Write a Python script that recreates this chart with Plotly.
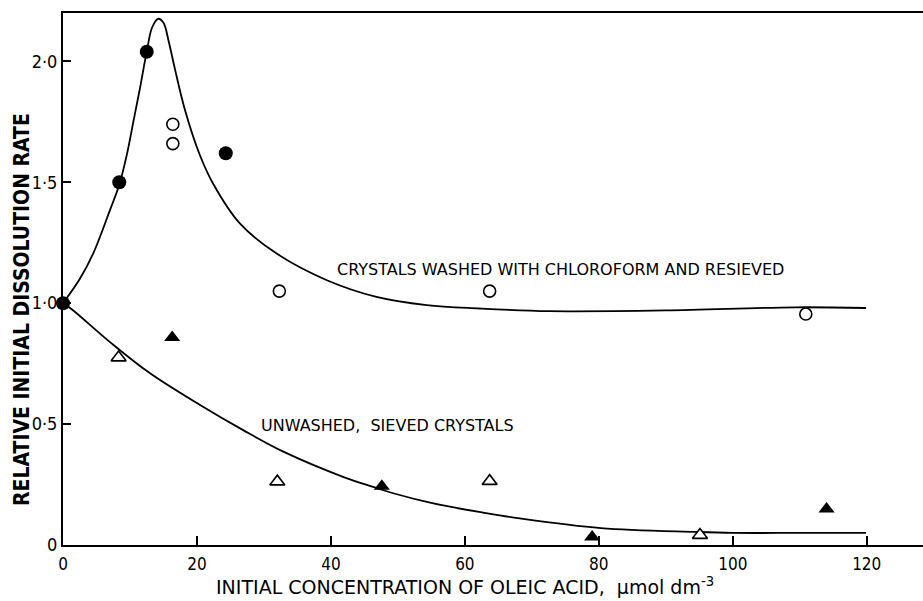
import plotly.graph_objects as go

# ---- data ----
washed_filled_x = [0, 8.4, 12.5, 24.3]
washed_filled_y = [1.0, 1.5, 2.04, 1.62]
washed_open_x = [16.4, 16.4, 32.3, 63.7, 110.9]
washed_open_y = [1.74, 1.66, 1.05, 1.05, 0.955]

unwashed_open_x = [8.3, 32.0, 63.7, 95.1]
unwashed_open_y = [0.775, 0.262, 0.264, 0.041]
unwashed_filled_x = [16.3, 47.6, 79.0, 114.0]
unwashed_filled_y = [0.858, 0.243, 0.033, 0.149]

fit_washed_x = [0, 2.5, 4.5, 7.0, 8.4, 9.5, 10.5, 11.5, 12.5, 13.3, 14.2, 15.0, 15.8, 16.7,
                18.2, 20.4, 22.4, 26.4, 31.9, 39.4, 46.8, 54.3, 62.2, 72.6, 90, 109.3, 119.9]
fit_washed_y = [1.0, 1.1, 1.205, 1.384, 1.49, 1.61, 1.75, 1.89, 2.04, 2.14, 2.176, 2.16, 2.08, 1.97,
                1.80, 1.615, 1.495, 1.33, 1.205, 1.095, 1.026, 0.992, 0.978, 0.967, 0.97, 0.983, 0.98]

fit_unwashed_x = [0, 1.3, 7.2, 13, 20.4, 26.9, 32.9, 41.8, 46.3, 49.3, 55.3, 62.7, 68.2,
                  80.3, 94.5, 100, 110, 119.9]
fit_unwashed_y = [1.0, 0.975, 0.835, 0.71, 0.58, 0.475, 0.386, 0.282, 0.24, 0.214, 0.172, 0.134, 0.11,
                  0.07, 0.054, 0.05, 0.05, 0.05]

y_tickvals = [0, 0.5, 1.0, 1.5, 2.0]
y_ticktext = ["0", "0·5", "1·0", "1·5", "2·0"]
x_tickvals = [0, 20, 40, 60, 80, 100, 120]
x_ticktext = ["0", "20", "40", "60", "80", "100", "120"]

FONT = "DejaVu Sans Condensed, Liberation Sans Narrow, Arial Narrow, sans-serif"
FONT_WIDE = "DejaVu Sans, Verdana, sans-serif"

fig = go.Figure()
fig.add_trace(go.Scatter(x=fit_washed_x, y=fit_washed_y, mode="lines",
                         line=dict(color="black", width=1.8, shape="spline", smoothing=1.0),
                         showlegend=False, hoverinfo="skip"))
fig.add_trace(go.Scatter(x=fit_unwashed_x, y=fit_unwashed_y, mode="lines",
                         line=dict(color="black", width=1.8, shape="spline", smoothing=1.0),
                         showlegend=False, hoverinfo="skip"))
fig.add_trace(go.Scatter(x=washed_open_x, y=washed_open_y, mode="markers",
                         marker=dict(symbol="circle", size=12, color="white",
                                     line=dict(color="black", width=1.6)),
                         cliponaxis=False, showlegend=False))
fig.add_trace(go.Scatter(x=washed_filled_x, y=washed_filled_y, mode="markers",
                         marker=dict(symbol="circle", size=14, color="black"),
                         cliponaxis=False, showlegend=False))
fig.add_trace(go.Scatter(x=unwashed_open_x, y=unwashed_open_y, mode="markers",
                         marker=dict(symbol="triangle-up", size=13, color="white",
                                     line=dict(color="black", width=1.6)),
                         cliponaxis=False, showlegend=False))
fig.add_trace(go.Scatter(x=unwashed_filled_x, y=unwashed_filled_y, mode="markers",
                         marker=dict(symbol="triangle-up", size=14, color="black"),
                         cliponaxis=False, showlegend=False))

fig.add_annotation(x=74.3, y=1.14, text="CRYSTALS WASHED WITH CHLOROFORM AND RESIEVED",
                   showarrow=False, font=dict(family=FONT_WIDE, size=16, color="black"))
fig.add_annotation(x=48.4, y=0.496, text="UNWASHED,  SIEVED CRYSTALS",
                   showarrow=False, font=dict(family=FONT_WIDE, size=16, color="black"))

# axis titles
fig.add_annotation(xref="paper", yref="paper", x=0.4675, y=-0.0771,
                   xanchor="center", yanchor="middle", showarrow=False,
                   text="INITIAL CONCENTRATION OF OLEIC ACID,  μmol dm<sup>-3</sup>",
                   font=dict(family=FONT_WIDE, size=19, color="black"))
fig.add_annotation(xref="paper", yref="paper", x=-0.0477, y=0.4436,
                   xanchor="center", yanchor="middle", showarrow=False, textangle=-90,
                   text="<b>RELATIVE INITIAL DISSOLUTION RATE</b>",
                   font=dict(family=FONT, size=21, color="black"))

fig.update_layout(
    width=923, height=601,
    margin=dict(l=63, r=0, t=13, b=56),
    paper_bgcolor="white", plot_bgcolor="white",
    font=dict(family=FONT, color="black"),
    xaxis=dict(range=[0, 128.4], tickvals=x_tickvals, ticktext=x_ticktext,
               ticks="inside", ticklen=9, tickwidth=1.5, tickcolor="black",
               showline=True, linecolor="black", linewidth=2, mirror=True,
               showgrid=False, zeroline=False, tickfont=dict(size=17, family=FONT),
               ticklabelstandoff=3),
    yaxis=dict(range=[0, 2.2], tickvals=y_tickvals, ticktext=y_ticktext,
               ticks="inside", ticklen=8, tickwidth=1.5, tickcolor="black",
               showline=True, linecolor="black", linewidth=2, mirror=False,
               showgrid=False, zeroline=False, tickfont=dict(size=18, family=FONT)),
)

fig.write_html("out.html")
